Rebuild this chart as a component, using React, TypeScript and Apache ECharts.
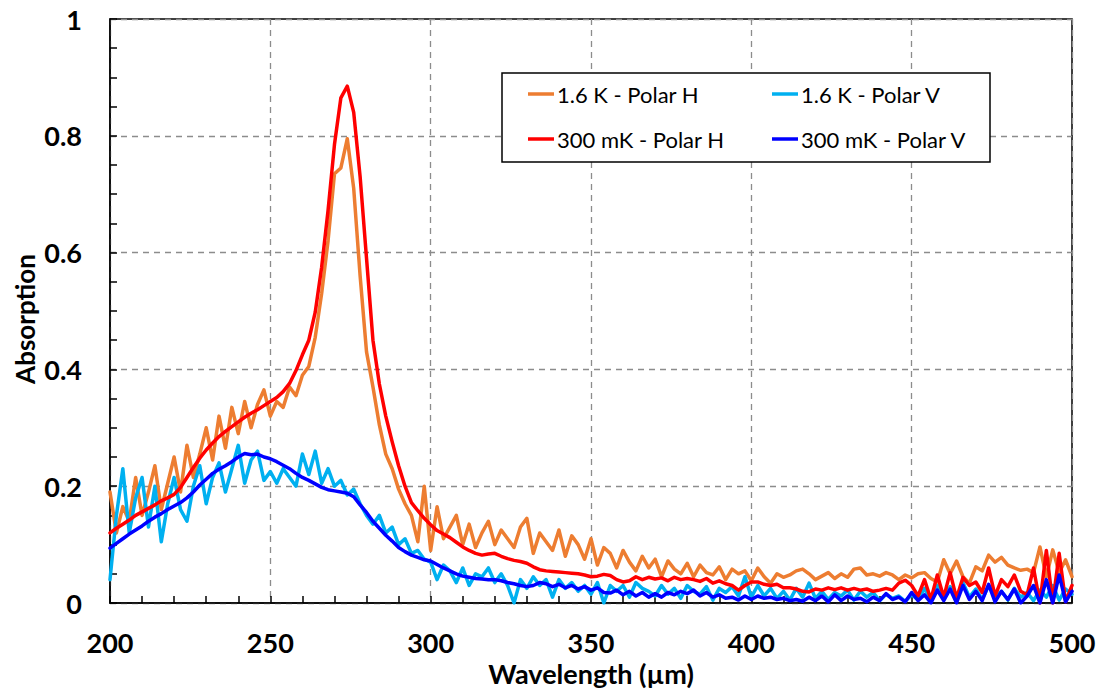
import React, { useEffect, useRef } from "react";
import * as echarts from "echarts";

// Wavelength grid (µm): 200 → 500 in 2 µm steps (151 samples)
const X_START = 200;
const X_STEP = 2;

const SERIES_NAMES = ["1.6 K - Polar H", "1.6 K - Polar V", "300 mK - Polar H", "300 mK - Polar V"];
const SERIES_COLORS = ["#ED7D31", "#00B0F0", "#FF0000", "#0000FF"];

const orangeH16K = [
  0.190, 0.120, 0.165, 0.140, 0.215, 0.150, 0.190, 0.235, 0.160, 0.205,
  0.250, 0.190, 0.270, 0.215, 0.255, 0.300, 0.245, 0.320, 0.265, 0.335,
  0.290, 0.345, 0.300, 0.340, 0.365, 0.320, 0.345, 0.335, 0.370, 0.355,
  0.390, 0.405, 0.455, 0.530, 0.620, 0.735, 0.745, 0.795, 0.710, 0.560,
  0.430, 0.370, 0.305, 0.255, 0.230, 0.195, 0.170, 0.150, 0.105, 0.200,
  0.090, 0.165, 0.110, 0.130, 0.150, 0.100, 0.135, 0.095, 0.120, 0.140,
  0.100, 0.125, 0.110, 0.095, 0.130, 0.145, 0.085, 0.120, 0.105, 0.090,
  0.125, 0.080, 0.115, 0.100, 0.075, 0.110, 0.065, 0.095, 0.085, 0.060,
  0.090, 0.070, 0.055, 0.080, 0.060, 0.075, 0.045, 0.072, 0.058, 0.050,
  0.068, 0.045, 0.065, 0.052, 0.048, 0.062, 0.040, 0.058, 0.050, 0.055,
  0.038, 0.060, 0.045, 0.034, 0.050, 0.044, 0.048, 0.055, 0.058, 0.050,
  0.040, 0.046, 0.052, 0.042, 0.050, 0.044, 0.058, 0.060, 0.048, 0.050,
  0.046, 0.052, 0.048, 0.040, 0.048, 0.043, 0.050, 0.052, 0.042, 0.036,
  0.074, 0.050, 0.072, 0.045, 0.034, 0.062, 0.055, 0.082, 0.070, 0.078,
  0.065, 0.060, 0.056, 0.058, 0.052, 0.096, 0.045, 0.091, 0.052, 0.074,
  0.045,
];

const cyanV16K = [
  0.040, 0.150, 0.230, 0.120, 0.180, 0.215, 0.130, 0.200, 0.105, 0.170,
  0.215, 0.160, 0.140, 0.200, 0.235, 0.170, 0.215, 0.240, 0.190, 0.230,
  0.270, 0.205, 0.245, 0.260, 0.210, 0.225, 0.205, 0.230, 0.215, 0.200,
  0.255, 0.220, 0.260, 0.205, 0.230, 0.200, 0.210, 0.185, 0.195, 0.170,
  0.150, 0.135, 0.150, 0.120, 0.130, 0.100, 0.110, 0.085, 0.090, 0.075,
  0.070, 0.040, 0.065, 0.055, 0.035, 0.060, 0.030, 0.050, 0.045, 0.060,
  0.035, 0.050, 0.030, 0.000, 0.040, 0.025, 0.045, 0.030, 0.040, 0.010,
  0.040, 0.025, 0.035, 0.020, 0.030, 0.015, 0.035, 0.000, 0.030, 0.020,
  0.030, 0.010, 0.035, 0.025, 0.020, 0.012, 0.030, 0.015, 0.025, 0.008,
  0.030, 0.020, 0.015, 0.028, 0.005, 0.025, 0.018, 0.028, 0.012, 0.045,
  0.010, 0.030, 0.012, 0.025, 0.008, 0.020, 0.005, 0.025, 0.010, 0.034,
  0.008, 0.020, 0.006, 0.018, 0.012, 0.022, 0.005, 0.020, 0.010, 0.018,
  0.004, 0.015, 0.008, 0.012, 0.003, 0.014, 0.006, 0.025, 0.004, 0.030,
  0.012, 0.028, 0.008, 0.035, 0.010, 0.024, 0.006, 0.030, 0.012, 0.020,
  0.005, 0.025, 0.010, 0.018, 0.004, 0.022, 0.010, 0.030, 0.005, 0.024,
  0.015,
];

const redH300mK = [
  0.120, 0.128, 0.135, 0.142, 0.150, 0.156, 0.162, 0.168, 0.175, 0.180,
  0.186, 0.198, 0.215, 0.232, 0.248, 0.262, 0.274, 0.285, 0.294, 0.302,
  0.310, 0.318, 0.325, 0.331, 0.338, 0.345, 0.352, 0.362, 0.376, 0.398,
  0.425, 0.450, 0.498, 0.575, 0.672, 0.785, 0.865, 0.885, 0.840, 0.730,
  0.590, 0.450, 0.375, 0.320, 0.276, 0.235, 0.200, 0.172, 0.158, 0.145,
  0.134, 0.124, 0.118, 0.112, 0.104, 0.096, 0.090, 0.085, 0.082, 0.084,
  0.085, 0.080, 0.076, 0.073, 0.071, 0.068, 0.062, 0.057, 0.055, 0.054,
  0.053, 0.052, 0.051, 0.050, 0.048, 0.045, 0.046, 0.049, 0.047, 0.040,
  0.036, 0.038, 0.045, 0.040, 0.044, 0.041, 0.043, 0.038, 0.044, 0.040,
  0.042, 0.040, 0.037, 0.042, 0.034, 0.038, 0.033, 0.030, 0.022, 0.030,
  0.036, 0.036, 0.032, 0.030, 0.032, 0.026, 0.026, 0.024, 0.020, 0.019,
  0.024, 0.022, 0.026, 0.023, 0.026, 0.022, 0.025, 0.022, 0.024, 0.020,
  0.022, 0.025, 0.022, 0.034, 0.039, 0.030, 0.012, 0.040, 0.006, 0.048,
  0.010, 0.052, 0.008, 0.044, 0.030, 0.036, 0.018, 0.060, 0.012, 0.040,
  0.028, 0.048, 0.020, 0.014, 0.060, 0.000, 0.090, 0.000, 0.085, 0.002,
  0.030,
];

const blueV300mK = [
  0.094, 0.102, 0.110, 0.118, 0.125, 0.132, 0.140, 0.147, 0.153, 0.160,
  0.166, 0.172, 0.180, 0.190, 0.202, 0.212, 0.222, 0.229, 0.235, 0.242,
  0.250, 0.256, 0.254, 0.255, 0.250, 0.247, 0.242, 0.236, 0.230, 0.222,
  0.215, 0.210, 0.204, 0.198, 0.194, 0.192, 0.190, 0.188, 0.182, 0.168,
  0.155, 0.140, 0.128, 0.116, 0.106, 0.095, 0.088, 0.082, 0.078, 0.074,
  0.072, 0.066, 0.060, 0.055, 0.050, 0.046, 0.044, 0.042, 0.041, 0.040,
  0.040, 0.038, 0.035, 0.033, 0.030, 0.028, 0.030, 0.035, 0.033, 0.028,
  0.032, 0.026, 0.030, 0.024, 0.028, 0.022, 0.026, 0.018, 0.017, 0.022,
  0.014, 0.020, 0.012, 0.018, 0.010, 0.016, 0.010, 0.018, 0.014, 0.020,
  0.016, 0.022, 0.012, 0.018, 0.010, 0.014, 0.008, 0.010, 0.005, 0.012,
  0.006, 0.012, 0.008, 0.010, 0.006, 0.008, 0.004, 0.006, 0.003, 0.010,
  0.004, 0.012, 0.002, 0.014, 0.004, 0.012, 0.006, 0.008, 0.002, 0.010,
  0.004, 0.016, 0.006, 0.010, 0.002, 0.018, 0.004, 0.014, 0.000, 0.022,
  0.004, 0.024, 0.000, 0.030, 0.006, 0.020, 0.004, 0.032, 0.002, 0.020,
  0.006, 0.024, 0.000, 0.012, 0.030, 0.000, 0.040, 0.000, 0.048, 0.002,
  0.020,
];

const SERIES_VALUES = [orangeH16K, cyanV16K, redH300mK, blueV300mK];

const FONT = "Lato, 'Open Sans', sans-serif";

export default function App() {
  const ref = useRef<HTMLDivElement>(null);

  useEffect(() => {
    if (!ref.current) return;
    const chart = echarts.init(ref.current, null, { renderer: "svg" });

    const series = SERIES_NAMES.map((name, si) => ({
      name,
      type: "line",
      symbol: "none",
      smooth: false,
      z: 2 + si,
      data: SERIES_VALUES[si].map((v, i) => [X_START + X_STEP * i, v]),
      lineStyle: { color: SERIES_COLORS[si], width: 3.5, join: "round", cap: "round" },
      itemStyle: { color: SERIES_COLORS[si] },
    }));

    const legendPos = [
      { left: 528, top: 83 },
      { left: 772, top: 83 },
      { left: 528, top: 128 },
      { left: 772, top: 128 },
    ];

    const legends = SERIES_NAMES.map((name, i) => ({
      data: [name],
      left: legendPos[i].left,
      top: legendPos[i].top,
      padding: 0,
      icon: "rect",
      itemWidth: 26,
      itemHeight: 3.5,
      selectedMode: false,
      z: 10,
      textStyle: { fontFamily: FONT, fontSize: 22, color: "#000", padding: [0, 0, 0, -2] },
    }));

    chart.setOption({
      animation: false,
      backgroundColor: "#fff",
      grid: {
        left: 110,
        right: 27,
        top: 19,
        bottom: 86,
        show: true,
        borderColor: "#000",
        borderWidth: 1.5,
        outerBoundsMode: "none",
      },
      legend: legends,
      graphic: [
        {
          type: "rect",
          z: 8,
          shape: { x: 502, y: 73, width: 488, height: 89 },
          style: { fill: "#fff", stroke: "#000", lineWidth: 1.5 },
        },
      ],
      xAxis: {
        type: "value",
        min: 200,
        max: 500,
        interval: 50,
        name: "Wavelength (µm)",
        nameLocation: "middle",
        nameGap: 70,
        nameMoveOverlap: false,
        nameTextStyle: {
          fontFamily: FONT,
          fontSize: 27,
          fontWeight: "bold",
          color: "#000",
          verticalAlign: "middle",
          lineHeight: 25,
        },
        axisLine: { show: true, lineStyle: { color: "#000", width: 1.5 } },
        axisTick: { show: true, inside: true, length: 7, lineStyle: { color: "#000", width: 1.5 } },
        minorTick: { show: true, splitNumber: 5, length: 7, lineStyle: { color: "#000", width: 1.5 } },
        axisLabel: {
          fontFamily: FONT,
          fontSize: 27,
          fontWeight: "bold",
          color: "#000",
          margin: 27,
          lineHeight: 25,
        },
        splitLine: { show: true, lineStyle: { color: "#8c8c8c", type: [6, 5], width: 1.3 } },
      },
      yAxis: {
        type: "value",
        min: 0,
        max: 1,
        interval: 0.2,
        name: "Absorption",
        nameLocation: "middle",
        nameGap: 72,
        nameMoveOverlap: false,
        nameTextStyle: {
          fontFamily: FONT,
          fontSize: 26,
          fontWeight: "bold",
          color: "#000",
          padding: [0, 16, 0, 0],
        },
        axisLine: { show: true, lineStyle: { color: "#000", width: 1.5 } },
        axisTick: { show: true, inside: true, length: 7, lineStyle: { color: "#000", width: 1.5 } },
        minorTick: { show: true, splitNumber: 4, length: 7, lineStyle: { color: "#000", width: 1.5 } },
        axisLabel: { fontFamily: FONT, fontSize: 27, fontWeight: "bold", color: "#000", margin: 28 },
        splitLine: { show: true, lineStyle: { color: "#8c8c8c", type: [6, 5], width: 1.3 } },
      },
      series,
    });

    return () => chart.dispose();
  }, []);

  return <div ref={ref} style={{ width: 1099, height: 689, position: "absolute", left: 0, top: 0 }} />;
}
